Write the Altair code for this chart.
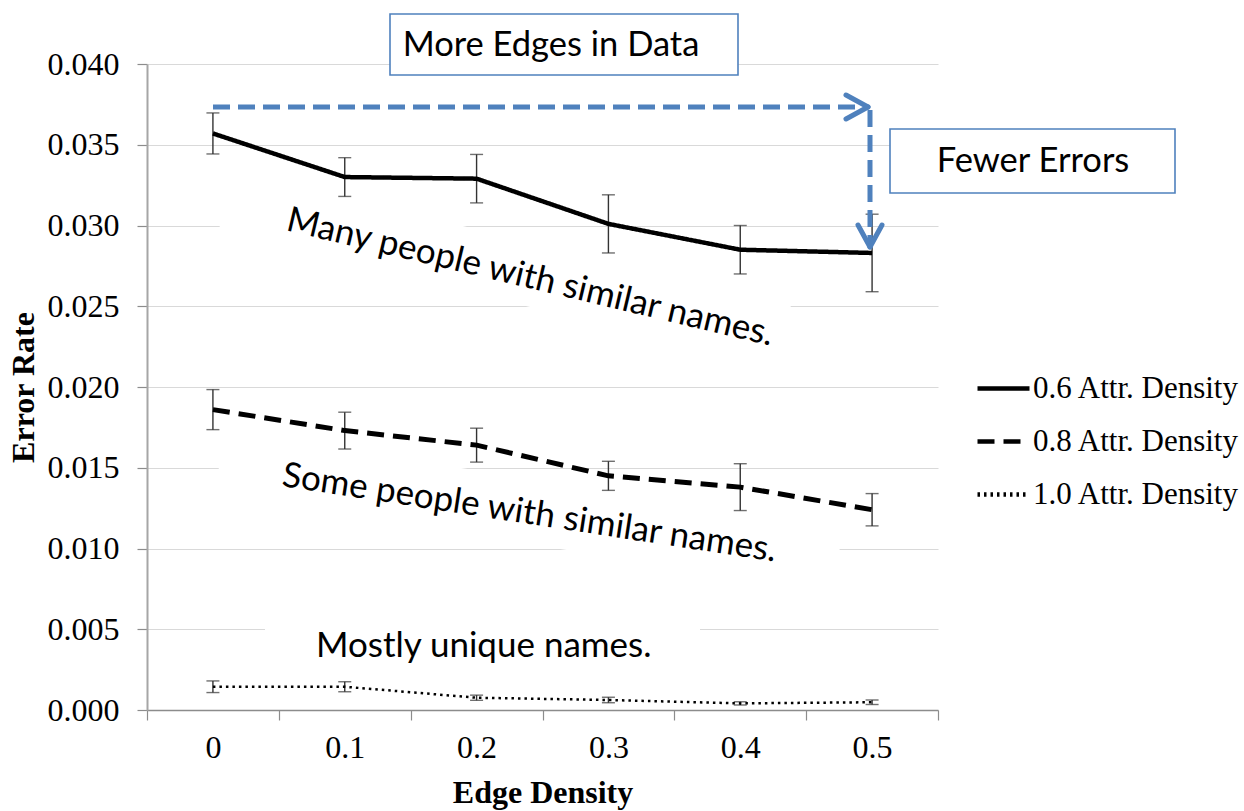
import altair as alt
import pandas as pd

# Error rate vs. edge density for three attribute densities (mean and +/- error)
edge_density = ["0", "0.1", "0.2", "0.3", "0.4", "0.5"]
series_names = ["0.6 Attr. Density", "0.8 Attr. Density", "1.0 Attr. Density"]

rate_06 = [0.0357, 0.0330, 0.0329, 0.0301, 0.0285, 0.0283]
err_06 = [0.00127, 0.00120, 0.00150, 0.00180, 0.00150, 0.00240]

rate_08 = [0.0186, 0.0173, 0.0164, 0.0145, 0.0138, 0.0124]
err_08 = [0.00124, 0.00114, 0.00105, 0.00090, 0.00145, 0.00100]

rate_10 = [0.00144, 0.00144, 0.00076, 0.00062, 0.00041, 0.00048]
err_10 = [0.00036, 0.00031, 0.00016, 0.00017, 0.00010, 0.00014]

y_ticks = [0.0, 0.005, 0.010, 0.015, 0.020, 0.025, 0.030, 0.035, 0.040]

rows = []
for name, means, errs in zip(series_names, [rate_06, rate_08, rate_10], [err_06, err_08, err_10]):
    for e, m, d in zip(edge_density, means, errs):
        rows.append({"edge": e, "series": name, "rate": m, "lo": m - d, "hi": m + d})
df = pd.DataFrame(rows)

W, H = 791, 646
SERIF = "Liberation Serif"
SANS = "Lato"
BLUE = "#4f81bd"
AXIS_FS = 32


def x_enc():
    return alt.X(
        "edge:N",
        sort=edge_density,
        scale=alt.Scale(type="band", domain=edge_density, paddingInner=0, paddingOuter=0),
        axis=alt.Axis(
            title="Edge Density", labelAngle=0, tickBand="extent", tickSize=10,
            tickColor="#8c8c8c", domainColor="#8c8c8c", domainWidth=1.5, tickWidth=1.2,
            labelFont=SERIF, labelFontSize=AXIS_FS, labelColor="black", labelPadding=12,
            titleFont=SERIF, titleFontSize=AXIS_FS, titleFontWeight="bold", titleColor="black",
            titlePadding=14, grid=False,
        ),
    )


def y_enc(field):
    return alt.Y(
        field,
        scale=alt.Scale(domain=[0, 0.04], nice=False, zero=True),
        axis=alt.Axis(
            title="Error Rate", values=y_ticks, format=".3f", tickSize=10,
            tickColor="#8c8c8c", domainColor="#a6a6a6", domainWidth=2, tickWidth=1.2,
            grid=True, gridColor="#d9d9d9", gridWidth=1.2,
            labelFont=SERIF, labelFontSize=AXIS_FS, labelColor="black", labelPadding=18,
            titleFont=SERIF, titleFontSize=AXIS_FS, titleFontWeight="bold", titleColor="black",
            titlePadding=7,
        ),
    )


dash_enc = alt.StrokeDash(
    "series:N",
    scale=alt.Scale(domain=series_names, range=[[1, 0], [17, 9], [2.5, 4]]),
    legend=alt.Legend(
        orient="none", legendX=828, legendY=296, title=None,
        symbolType="stroke", symbolSize=2704, symbolStrokeWidth=4.5,
        symbolStrokeColor="black", labelFont=SERIF, labelFontSize=31,
        labelColor="black", labelOffset=1, rowPadding=9, padding=0, labelLimit=400,
    ),
)

one = pd.DataFrame({"k": [0]})

# White text backings that interrupt the gridlines behind the captions
back_many = alt.Chart(one).mark_point(
    shape="M -1 -0.11 L 1 -0.11 L 1 0.11 L -1 0.11 Z",
    filled=True, color="white", opacity=1, size=329476, angle=13.4, strokeWidth=0,
).encode(x=alt.value(357.7), y=alt.value(204.5))

back_some = alt.Chart(one).mark_point(
    shape="M -1 -0.104 L 1 -0.104 L 1 0.104 L -1 0.104 Z",
    filled=True, color="white", opacity=1, size=391876, angle=8.7, strokeWidth=0,
).encode(x=alt.value(381.8), y=alt.value(447.3))

back_unique = alt.Chart(one).mark_rect(color="white").encode(
    x=alt.value(118), x2=alt.value(553), y=alt.value(550), y2=alt.value(604)
)

# Series lines
line_widths = [4.5, 5, 2.5]
lines = [
    alt.Chart(df).transform_filter(alt.datum.series == name)
    .mark_line(color="black", strokeWidth=w)
    .encode(x=x_enc(), y=y_enc("rate:Q"), strokeDash=dash_enc)
    for name, w in zip(series_names, line_widths)
]

# Error bars with caps
bars = alt.Chart(df).mark_rule(color="#333333", strokeWidth=1.4).encode(
    x=x_enc(), y=y_enc("lo:Q"), y2="hi:Q"
)
cap_lo = alt.Chart(df).mark_tick(color="#333333", thickness=1.4, size=13).encode(
    x=x_enc(), y=y_enc("lo:Q")
)
cap_hi = alt.Chart(df).mark_tick(color="#333333", thickness=1.4, size=13).encode(
    x=x_enc(), y=y_enc("hi:Q")
)

# Captions
def caption(text, x, y, angle=0, size=35):
    return alt.Chart(one).mark_text(
        text=text, font=SANS, fontSize=size, color="black", align="left",
        baseline="alphabetic", angle=angle,
    ).encode(x=alt.value(x), y=alt.value(y))

cap_many = caption("Many people with similar names.", 138, 166, 13.4)
cap_some = caption("Some people with similar names.", 134, 422, 8.7)
cap_unique = caption("Mostly unique names.", 169, 593)

# Call-out boxes
def box(x1, x2, y1, y2):
    return alt.Chart(one).mark_rect(fill="white", stroke=BLUE, strokeWidth=1.6).encode(
        x=alt.value(x1), x2=alt.value(x2), y=alt.value(y1), y2=alt.value(y2)
    )

def box_text(text, x, y):
    return alt.Chart(one).mark_text(
        text=text, font=SANS, fontSize=34.5, color="black", align="center", baseline="middle"
    ).encode(x=alt.value(x), y=alt.value(y))

box_more = box(243, 591, -50, 11)
txt_more = box_text("More Edges in Data", 404, -18)
box_fewer = box(743, 1028, 65, 129)
txt_fewer = box_text("Fewer Errors", 886, 98)

# Blue dashed arrow
def seg(x1, y1, x2, y2, dashed=False):
    kw = dict(color=BLUE, strokeWidth=5)
    if dashed:
        kw.update(strokeDash=[17, 8], strokeCap="butt")
    else:
        kw.update(strokeCap="round")
    return alt.Chart(one).mark_rule(**kw).encode(
        x=alt.value(x1), y=alt.value(y1), x2=alt.value(x2), y2=alt.value(y2)
    )

arrow = [
    seg(66, 43, 719, 43, dashed=True),
    seg(699, 31, 721, 43),
    seg(699, 55, 721, 43),
    seg(723, 46, 723, 180, dashed=True),
    seg(711, 161, 723, 183),
    seg(735, 161, 723, 183),
]

chart = alt.layer(
    back_many, back_some, back_unique,
    bars, cap_lo, cap_hi,
    *lines,
    cap_many, cap_some, cap_unique,
    box_more, txt_more, box_fewer, txt_fewer,
    *arrow,
).properties(
    width=W, height=H,
    autosize=alt.AutoSizeParams(type="none"),
    padding={"left": 147, "top": 64, "right": 306, "bottom": 101},
    background="white",
).configure_view(stroke=None)

chart.save("out.html", embed_options={"renderer": "svg", "actions": False})
